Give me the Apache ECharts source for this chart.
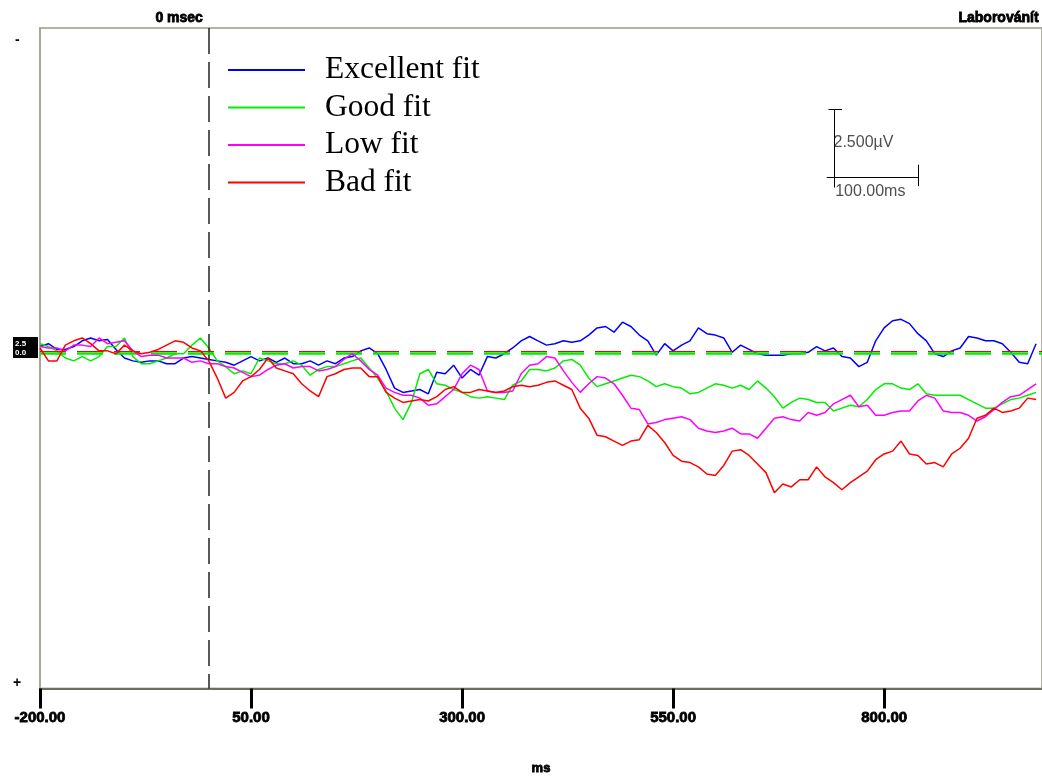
<!DOCTYPE html>
<html>
<head>
<meta charset="utf-8">
<script src="https://cdn.jsdelivr.net/npm/echarts@6/dist/echarts.min.js"></script>
<style>
  html, body { margin: 0; padding: 0; background: #fff; }
  #chart { width: 1042px; height: 780px; }
</style>
</head>
<body>
<div id="chart"></div>
<script>
// ERP grand averages, time in ms, amplitude in µV (negative plotted up)
const times = [
  -200, -190, -180, -170, -160, -150, -140, -130, -120, -110,
  -100, -90, -80, -70, -60, -50, -40, -30, -20, -10,
  0, 10, 20, 30, 40, 50, 60, 70, 80, 90,
  100, 110, 120, 130, 140, 150, 160, 170, 180, 190,
  200, 210, 220, 230, 240, 250, 260, 270, 280, 290,
  300, 310, 320, 330, 340, 350, 360, 370, 380, 390,
  400, 410, 420, 430, 440, 450, 460, 470, 480, 490,
  500, 510, 520, 530, 540, 550, 560, 570, 580, 590,
  600, 610, 620, 630, 640, 650, 660, 670, 680, 690,
  700, 710, 720, 730, 740, 750, 760, 770, 780, 790,
  800, 810, 820, 830, 840, 850, 860, 870, 880, 890,
  900, 910, 920, 930, 940, 950, 960, 970, 980
];

const excellentFit = [
  -0.2, -0.3, -0.1, -0.1, -0.2, -0.4, -0.5, -0.4, -0.45, -0.1,
  0.2, 0.3, 0.35, 0.3, 0.3, 0.4, 0.4, 0.2, 0.15, 0.2,
  0.25, 0.3, 0.35, 0.45, 0.3, 0.15, 0.3, 0.2, 0.35, 0.2,
  0.4, 0.4, 0.3, 0.45, 0.3, 0.4, 0.2, 0.15, -0.05, -0.15,
  0.05, 0.6, 1.25, 1.4, 1.35, 1.3, 1.45, 0.7, 0.75, 0.45,
  0.9, 0.6, 0.8, 0.15, 0.2, 0.05, -0.15, -0.4, -0.55, -0.4,
  -0.25, -0.3, -0.4, -0.35, -0.4, -0.6, -0.85, -0.9, -0.7, -1.05,
  -0.9, -0.6, -0.4, 0.1, -0.3, -0.05, -0.25, -0.4, -0.85, -0.65,
  -0.6, -0.5, 0, -0.25, -0.1, 0.05, 0.1, 0.1, 0.1, 0.05,
  0.05, 0, -0.2, -0.05, -0.15, 0.15, 0.2, 0.5, 0.35, -0.4,
  -0.85, -1.1, -1.15, -1.0, -0.65, -0.4, 0.05, 0.15, -0.05, -0.15,
  -0.55, -0.5, -0.4, -0.4, -0.3, 0, 0.35, 0.4, -0.3
];

const goodFit = [
  -0.3, -0.2, -0.05, 0.2, 0.3, 0.15, 0.3, 0.15, -0.2, -0.2,
  -0.5, 0.15, 0.4, 0.4, 0.3, 0.2, 0.05, 0.05, -0.25, -0.5,
  -0.15, 0.3, 0.5, 0.75, 0.65, 0.75, 0.2, 0.3, 0.4, 0.4,
  0.3, 0.45, 0.8, 0.6, 0.5, 0.5, 0.4, 0.3, 0.2, 0.55,
  0.9, 1.35, 1.95, 2.35, 1.75, 0.75, 0.6, 1.1, 1.15, 1.3,
  1.4, 1.55, 1.6, 1.55, 1.6, 1.65, 1.15, 1.0, 0.6, 0.6,
  0.65, 0.55, 0.3, 0.25, 0.45, 0.9, 1.2, 1.1, 1.0, 0.9,
  0.8, 0.85, 1.0, 1.2, 1.1, 1.2, 1.25, 1.45, 1.4, 1.25,
  1.1, 1.15, 1.25, 1.15, 1.3, 1.0, 1.25, 1.55, 1.95, 1.75,
  1.6, 1.65, 1.75, 1.75, 2.05, 1.95, 1.85, 1.9, 1.65, 1.3,
  1.1, 1.1, 1.25, 1.3, 1.1, 1.45, 1.5, 1.5, 1.5, 1.5,
  1.65, 1.8, 1.95, 1.95, 1.8, 1.65, 1.6, 1.5, 1.4
];

const lowFit = [
  -0.2, -0.15, -0.15, -0.05, -0.25, -0.25, -0.2, -0.5, -0.3, -0.35,
  -0.4, -0.05, 0.15, 0.1, 0.1, 0.2, 0.2, 0.2, 0.35, 0.3,
  0.4, 0.4, 0.5, 0.55, 0.7, 0.85, 0.8, 0.6, 0.45, 0.4,
  0.55, 0.5, 0.5, 0.65, 0.6, 0.5, 0.25, 0.05, 0.3, 0.6,
  0.8, 1.25, 1.4, 1.5, 1.5, 1.6, 1.85, 1.8, 1.55, 1.3,
  0.75, 0.45, 0.6, 1.35, 1.4, 1.4, 1.35, 0.75, 0.45, 0.4,
  0.15, 0.2, 0.65, 1.05, 1.4, 1.1, 0.85, 0.9, 1.1, 1.5,
  1.95, 2.0, 2.5, 2.45, 2.35, 2.3, 2.25, 2.35, 2.65, 2.75,
  2.8, 2.75, 2.65, 2.85, 2.85, 3.0, 2.65, 2.3, 2.25, 2.35,
  2.4, 2.1, 2.2, 2.1, 1.8, 1.65, 1.5, 1.9, 1.85, 2.2,
  2.2, 2.1, 2.05, 2.05, 1.7, 1.5, 1.6, 2.05, 2.1, 2.1,
  2.2, 2.4, 2.25, 2.0, 1.75, 1.55, 1.5, 1.3, 1.1
];

const badFit = [
  -0.15, 0.3, 0.3, -0.25, -0.4, -0.5, -0.3, -0.05, -0.05, 0.05,
  -0.25, -0.05, 0.05, 0, -0.1, -0.25, -0.4, -0.35, -0.15, -0.05,
  0.3, 0.9, 1.6, 1.4, 1.0, 0.85, 0.6, 0.2, 0.55, 0.65,
  0.75, 1.1, 1.35, 1.55, 0.85, 0.75, 0.6, 0.55, 0.55, 0.85,
  0.85, 1.4, 1.6, 1.75, 1.7, 1.65, 1.7, 1.55, 1.3, 1.2,
  1.4, 1.4, 1.3, 1.35, 1.4, 1.35, 1.2, 1.15, 1.2, 1.15,
  1.05, 1.0, 1.15, 1.3, 1.95, 2.3, 2.9, 2.95, 3.1, 3.25,
  3.1, 3.05, 2.55, 2.8, 3.15, 3.6, 3.8, 3.85, 4.0, 4.25,
  4.3, 3.95, 3.45, 3.4, 3.6, 3.9, 4.2, 4.9, 4.6, 4.7,
  4.45, 4.45, 4.0, 4.35, 4.55, 4.8, 4.55, 4.35, 4.15, 3.75,
  3.55, 3.45, 3.1, 3.55, 3.6, 3.9, 3.85, 4.0, 3.55, 3.35,
  3.0, 2.3, 2.2, 1.95, 2.1, 2.05, 1.95, 1.6, 1.65
];

const seriesNames = ["Excellent fit", "Good fit", "Low fit", "Bad fit"];
const seriesColors = ["#0000ff", "#00ee00", "#ff00ff", "#ff0000"];
const xTicks = [-200, 50, 300, 550, 800];

// calibration bar: 100 ms x 2.5 µV, in data units
const scaleBarT = [732, 741, 840];
const scaleBarV = [-8.47, -6.1, -5.75, -6.55, -5.8];
const scaleLabels = ["2.500µV", "100.00ms"];

const chart = echarts.init(document.getElementById("chart"));

const toPairs = (vals) => times.map((t, i) => [t, vals[i]]);
const dashZero = [26, 11];

const traces = [excellentFit, goodFit, lowFit, badFit].map((vals, i) => ({
  name: seriesNames[i],
  type: "line",
  data: toPairs(vals),
  symbol: "none",
  color: seriesColors[i],
  lineStyle: { color: seriesColors[i], width: 1.5 },
  z: 3 + i,
  silent: true,
}));

// zero line (green under a thin red) and stimulus onset line
traces[1].markLine = {
  silent: true, symbol: "none", label: { show: false },
  data: [{ yAxis: 0.03, lineStyle: { color: "#00ee00", width: 2.5, type: dashZero } }],
};
traces[3].markLine = {
  silent: true, symbol: "none", label: { show: false },
  data: [{ yAxis: -0.04, lineStyle: { color: "#ff0000", width: 1, type: dashZero } }],
};
traces[0].markLine = {
  silent: true, symbol: "none", label: { show: false },
  data: [{ xAxis: 0, lineStyle: { color: "#222", width: 1.5, type: [26, 8] } }],
};

const [tL, tTick, tR] = scaleBarT;
const [vTop, vH, vBot, rTop, rBot] = scaleBarV;

const heavy = { textBorderColor: "#000", textBorderWidth: 0.8 };

chart.setOption({
  animation: false,
  backgroundColor: "#fff",
  grid: { left: 40, right: -1, top: 28, bottom: 88, show: true, borderColor: "#b4b2a2", borderWidth: 2 },
  legend: {
    data: seriesNames,
    orient: "vertical",
    left: 222,
    top: 49,
    itemWidth: 77,
    itemHeight: 14,
    itemGap: 5.5,
    itemStyle: { opacity: 0 },
    textStyle: { fontFamily: "Liberation Serif", fontSize: 31.5, color: "#000", lineHeight: 30, padding: [0, 0, 0, 15] },
    selectedMode: false,
  },
  xAxis: {
    type: "value",
    min: -200,
    max: 987,
    interval: 250,
    splitLine: { show: false },
    axisLine: { show: true, onZero: false, lineStyle: { color: "#706e60", width: 2 } },
    axisTick: { show: true, length: 20, customValues: xTicks, lineStyle: { color: "#000", width: 3 } },
    axisLabel: {
      customValues: xTicks,
      margin: 22,
      color: "#000",
      fontFamily: "Liberation Sans",
      fontWeight: "bold",
      fontSize: 15,
      ...heavy,
      formatter: (v) => v.toFixed(2),
    },
    name: "ms",
    nameLocation: "middle",
    nameGap: 73,
    nameTextStyle: { color: "#000", fontFamily: "Liberation Sans", fontWeight: "bold", fontSize: 13, ...heavy },
  },
  yAxis: {
    type: "value",
    inverse: true,
    min: -11.32,
    max: 11.74,
    splitLine: { show: false },
    axisTick: { show: false },
    axisLabel: { show: false },
    axisLine: { show: true, onZero: false, lineStyle: { color: "#a8a696", width: 2 } },
  },
  graphic: [
    { type: "text", left: 155, top: 11, style: { text: "0 msec", font: "bold 14px 'Liberation Sans'", fill: "#000", stroke: "#000", lineWidth: 0.8 } },
    { type: "text", right: 3, top: 11, style: { text: "Laborovánít", font: "bold 14px 'Liberation Sans'", fill: "#000", stroke: "#000", lineWidth: 0.8 } },
    { type: "text", left: 15, top: 33, style: { text: "-", font: "bold 14px 'Liberation Sans'", fill: "#000" } },
    { type: "text", left: 13, top: 676, style: { text: "+", font: "bold 14px 'Liberation Sans'", fill: "#000" } },
    { type: "rect", left: 13, top: 337, shape: { width: 25, height: 21 }, style: { fill: "#000" } },
    { type: "text", left: 15, top: 339, style: { text: "2.5\n0.0", font: "bold 8px 'Liberation Sans'", fill: "#fff", lineHeight: 9 } },
  ],
  series: [
    ...traces,
    {
      name: "calibration",
      type: "lines",
      coordinateSystem: "cartesian2d",
      silent: true,
      z: 10,
      lineStyle: { color: "#000", width: 1, opacity: 1 },
      data: [
        { coords: [[tTick, vTop], [tTick, vBot]] },
        { coords: [[tTick - 7, vTop], [tTick + 9, vTop]] },
        { coords: [[tL, vH], [tR, vH]] },
        { coords: [[tR, rTop], [tR, rBot]] },
      ],
    },
    {
      name: "calibration labels",
      type: "scatter",
      silent: true,
      symbolSize: 0,
      z: 10,
      label: {
        show: true, position: "right", distance: 0, formatter: "{b}",
        color: "#222", fontFamily: "Liberation Sans", fontSize: 16,
      },
      data: [
        { name: scaleLabels[0], value: [tTick - 1, -7.33] },
        { name: scaleLabels[1], value: [tTick + 1, -5.6] },
      ],
    },
  ],
});
</script>
</body>
</html>
